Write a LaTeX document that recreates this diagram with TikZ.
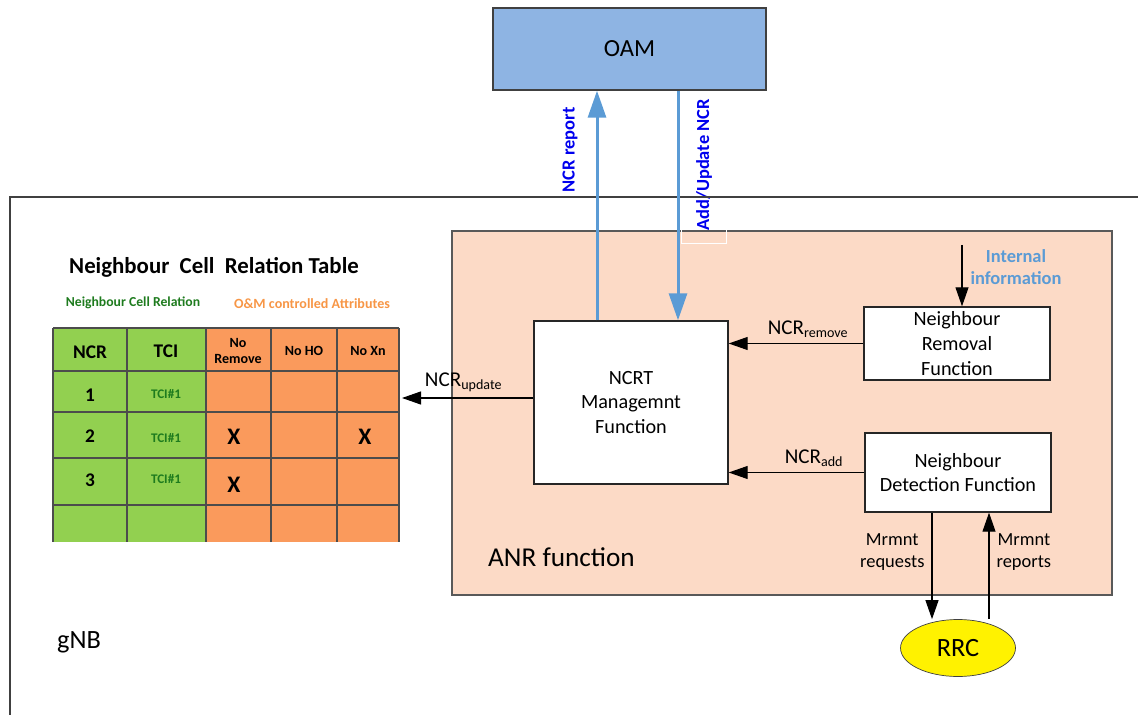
\documentclass[tikz,border=0pt]{standalone}
\usepackage{fontspec}
\setmainfont{Carlito}
\usepackage{xcolor}
\usepackage{tikz}
\usetikzlibrary{arrows.meta,positioning,shapes.geometric}
\definecolor{oamblue}{HTML}{8EB4E3}
\definecolor{linkblue}{HTML}{5B9BD5}
\definecolor{labelblue}{HTML}{0000EE}
\definecolor{anrpeach}{HTML}{FCDAC6}
\definecolor{tabgreen}{HTML}{92D050}
\definecolor{taborange}{HTML}{FA9A5C}
\definecolor{ncrgreen}{HTML}{1E7B1E}
\definecolor{omorange}{HTML}{F79646}
\tikzset{
    anr area/.style={
        draw=black!65,
        line width=0.8pt,
        fill=anrpeach,
        minimum width=13.2cm,
        minimum height=7.28cm
    },
    oam box/.style={
        draw=black!75,
        line width=0.8pt,
        fill=oamblue,
        minimum width=5.46cm,
        minimum height=1.64cm,
        font=\fontsize{14}{17}\selectfont
    },
    func box/.style={
        draw=black!85,
        line width=0.8pt,
        fill=white,
        align=center,
        inner sep=2pt,
        font=\fontsize{11.5}{14}\selectfont
    },
    rrc node/.style={
        draw=black!75,
        ellipse,
        fill=yellow,
        minimum width=2.3cm,
        minimum height=1.14cm,
        inner sep=0pt,
        font=\fontsize{15}{17}\selectfont
    },
    oam label/.style={
        draw=white,
        line width=0.5pt,
        minimum height=0.9cm,
        inner xsep=0.26cm,
        text=labelblue,
        font=\fontsize{10.5}{12}\selectfont\bfseries
    },
    ncr text/.style={font=\fontsize{12}{14}\selectfont, inner sep=2pt},
    ncr small/.style={font=\fontsize{10.5}{13}\selectfont, align=center, inner sep=2pt},
    int text/.style={font=\fontsize{10.5}{12.5}\selectfont\bfseries, text=linkblue, align=center},
    oam arrow/.style={-{Triangle[length=0.54cm,width=0.36cm]}, line width=0.06cm, draw=linkblue},
    ncr arrow/.style={-{Triangle[length=0.38cm,width=0.26cm]}, line width=0.6pt, draw=black},
    gnb line/.style={draw=black!75, line width=0.8pt},
    tab line/.style={draw=black!70, line width=0.8pt},
    tab head/.style={font=\fontsize{11}{13}\selectfont\bfseries},
    tab num/.style={font=\fontsize{11}{13}\selectfont\bfseries},
    tab small/.style={font=\fontsize{8}{9}\selectfont\bfseries, align=center},
    tab tci/.style={font=\fontsize{7.5}{9}\selectfont\bfseries, text=ncrgreen},
    tab mark/.style={font=\fontsize{13.5}{15}\selectfont\bfseries}
}

\begin{document}
\begin{tikzpicture}[x=0.02cm, y=-0.02cm]
\useasboundingbox (0,0) rectangle (1138,715);

% ANR function
\node[anr area] (anr) at (782,413) {};
\node[font=\fontsize{15.5}{18}\selectfont, anchor=west] (anrlbl) at (482,557) {ANR function};

% OAM link labels
\node[oam label, rotate=90] (replbl) at (570,150) {NCR report};
\node[oam label, rotate=90] (updlbl) at (704,165) {Add/Update NCR};

% gNB frame
\draw[gnb line] (1138,197) -- (10,197) -- (10,715);
\node[font=\fontsize{15}{18}\selectfont] (gnb) at (79,642) {gNB};

% OAM and functions
\node[oam box] (oam) at (629.5,49) {OAM};
\node[func box, minimum width=3.88cm, minimum height=3.26cm] (ncrt) at (631,402.5) {NCRT\\Managemnt\\Function};
\node[func box, minimum width=3.72cm, minimum height=1.46cm] (rem) at (957,343.5) {Neighbour\\Removal\\Function};
\node[func box, minimum width=3.72cm, minimum height=1.58cm] (det) at (958,472.5) {Neighbour\\Detection Function};
\node[rrc node] (rrc) at (958,648) {RRC};

\coordinate (repx) at (597,0);
\coordinate (updx) at (678,0);
\coordinate (intx) at (962,245);
\coordinate (reqx) at (932,0);
\coordinate (rptx) at (989,0);
\coordinate (tabin) at (402,398);

\draw[oam arrow] (ncrt.north -| repx) -- (oam.south -| repx);
\draw[oam arrow] (oam.south -| updx) -- (ncrt.north -| updx);

\draw[ncr arrow] (rem.west) -- (rem.west -| ncrt.east)
    node[ncr text, pos=0.41, above=1pt] (remlbl) {NCR\textsubscript{remove}};
\draw[ncr arrow] (det.west) -- (det.west -| ncrt.east)
    node[ncr text, pos=0.37, above=1pt] (addlbl) {NCR\textsubscript{add}};
\draw[ncr arrow] (ncrt.west |- tabin) -- (tabin)
    node[ncr text, pos=0.53, above=1pt] (updtlbl) {NCR\textsubscript{update}};

\draw[ncr arrow] (intx) -- (rem.north -| intx);
\node[int text] (intlbl) at (1016,267) {Internal\\information};

\draw[ncr arrow] (det.south -| reqx) -- (rrc.north -| reqx)
    node[ncr small, pos=0.37, left=2pt] (reqlbl) {Mrmnt\\requests};
\draw[ncr arrow] (rrc.north -| rptx) -- (det.south -| rptx)
    node[ncr small, pos=0.63, right=2pt] (rptlbl) {Mrmnt\\reports};

% Neighbour cell relation table
\node[font=\fontsize{13}{15}\selectfont\bfseries] (tabtitle) at (214,267) {Neighbour\ \ Cell\ \ Relation Table};
\node[font=\fontsize{7.8}{9}\selectfont\bfseries, text=ncrgreen] (ncrhead) at (133,303) {Neighbour Cell Relation};
\node[font=\fontsize{8}{9}\selectfont\bfseries, text=omorange] (omhead) at (312,304) {O\&M controlled Attributes};

\fill[tabgreen] (53,328) rectangle (206,542);
\fill[taborange] (206,328) rectangle (399,542);
\draw[tab line] (53,328) -- (53,542) (127,328) -- (127,542) (206,328) -- (206,542)
    (271,328) -- (271,542) (337,328) -- (337,542) (399,328) -- (399,542);
\draw[tab line] (53,328) -- (399,328) (53,371) -- (399,371) (53,412) -- (399,412)
    (53,458) -- (399,458) (53,505) -- (399,505);

\node[tab head] (hncr) at (90,352) {NCR};
\node[tab head] (htci) at (166,351) {TCI};
\node[tab small] (hnorem) at (238,351) {No\\Remove};
\node[tab small] (hnoho) at (304,351) {No HO};
\node[tab small] (hnoxn) at (368,351) {No Xn};

\node[tab num] (ra) at (90,395) {1};
\node[tab num] (rb) at (90,436) {2};
\node[tab num] (rc) at (90,480) {3};
\node[tab tci] (ta) at (166,394) {TCI\#1};
\node[tab tci] (tb) at (166,438) {TCI\#1};
\node[tab tci] (tc) at (166,479) {TCI\#1};
\node[tab mark] (xb) at (234,437) {X};
\node[tab mark] (xc) at (234,485) {X};
\node[tab mark] (xbn) at (365,437) {X};
\end{tikzpicture}
\end{document}
